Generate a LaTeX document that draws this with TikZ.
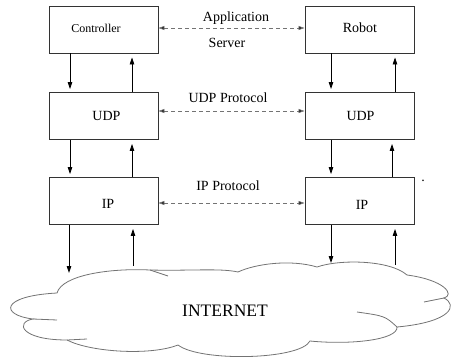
\documentclass[tikz,border=0pt]{standalone}
\usepackage{fontspec}
\setmainfont{Liberation Serif}
\newfontfamily\tnr{Liberation Serif}
\usetikzlibrary{arrows.meta}
\begin{document}
\begin{tikzpicture}[x=1pt,y=-1pt,
  box/.style={draw=black!80,line width=0.9pt,minimum width=109pt,minimum height=47pt,inner sep=0pt},
  lbl/.style={inner sep=0pt,font=\tnr\fontsize{14}{16}\selectfont},
  arr/.style={line width=0.8pt,-{Triangle[length=7pt,width=4.5pt]}},
  darr/.style={draw=black!55,line width=0.8pt,dash pattern=on 4pt off 3pt,{Triangle[length=6pt,width=4pt,fill=black]}-{Triangle[length=6pt,width=4pt,fill=black]}},
  cloudline/.style={draw=black!55,line width=0.8pt}]
\useasboundingbox (0,0) rectangle (452,358);

% boxes
\node[box] (ctrl)  at (103.5,29.5) {};
\node[box] (robot) at (359.5,29.5) {};
\node[box] (udpL)  at (103.5,116) {};
\node[box] (udpR)  at (359.5,116) {};
\node[box] (ipL)   at (103.5,201) {};
\node[box] (ipR)   at (359.5,201) {};

% box texts
\node[lbl,font=\tnr\fontsize{12}{14}\selectfont] (tctrl) at (96,28) {Controller};
\node[lbl] (trobot) at (360,28) {Robot};
\node[lbl] (tudpL) at (106.5,116) {UDP};
\node[lbl] (tudpR) at (360.5,116) {UDP};
\node[lbl] (tipL) at (108,204) {IP};
\node[lbl] (tipR) at (362,205) {IP};

% protocol labels
\node[lbl] (tapp) at (236,18) {Application};
\node[lbl] (tsrv) at (227,43) {Server};
\node[lbl] (tudpp) at (228,98) {UDP Protocol};
\node[lbl] (tipp) at (228,186) {IP Protocol};
\node[lbl] (tdot) at (423,181) {.};

% dashed peer arrows
\draw[darr] ([yshift=1.5pt]ctrl.east) -- ([yshift=1.5pt]robot.west);
\draw[darr] ([yshift=5pt]udpL.east) -- ([yshift=5pt]udpR.west);
\draw[darr] ([yshift=-2pt]ipL.east) -- ([yshift=-2pt]ipR.west);

% column coordinates
\coordinate (xa) at (70,0);
\coordinate (xb) at (132,0);
\coordinate (xc) at (331,0);
\coordinate (xd) at (395,0);
\coordinate (xe) at (392,0);

% left stack
\draw[arr,shorten >=3pt] (ctrl.south -| xa) -- (udpL.north -| xa);
\draw[arr,shorten >=4pt] (udpL.north -| xb) -- (ctrl.south -| xb);
\draw[arr,shorten >=3pt] (udpL.south -| xa) -- (ipL.north -| xa);
\draw[arr,shorten >=4pt] (ipL.north -| xb) -- (udpL.south -| xb);
\coordinate (inA) at (69,273);
\coordinate (outB) at (133,266);
\draw[arr] (ipL.south -| inA) -- (inA);
\draw[arr,shorten >=4pt] (outB) -- (ipL.south -| outB);

% right stack
\draw[arr,shorten >=3pt] (robot.south -| xc) -- (udpR.north -| xc);
\draw[arr,shorten >=4pt] (udpR.north -| xd) -- (robot.south -| xd);
\draw[arr,shorten >=3pt] (udpR.south -| xc) -- (ipR.north -| xc);
\draw[arr,shorten >=4pt] (ipR.north -| xe) -- (udpR.south -| xe);
\coordinate (inC) at (331,263);
\coordinate (outD) at (395,265);
\draw[arr] (ipR.south -| inC) -- (inC);
\draw[arr,shorten >=4pt] (outD) -- (ipR.south -| outD);

% cloud
\draw[cloudline] (57,293) .. controls (62,275) and (110,268) .. (150,270)
  .. controls (190,271) and (220,268) .. (238,272)
  .. controls (255,264) and (290,259) .. (317,267)
  .. controls (340,259) and (390,260) .. (407,275)
  .. controls (445,280) and (455,295) .. (444,298)
  .. controls (458,305) and (452,322) .. (397,327)
  .. controls (398,340) and (350,345) .. (310,341)
  .. controls (300,360) and (200,362) .. (178,345)
  .. controls (150,356) and (90,352) .. (67,340)
  .. controls (20,340) and (15,322) .. (33,319)
  .. controls (0,315) and (0,296) .. (57,293) -- cycle;
\draw[cloudline] (33,319) -- (57,320);
\draw[cloudline] (67,340) -- (87,339);
\draw[cloudline] (444,298) -- (424,302);
\draw[cloudline] (357,312) .. controls (385,316) .. (397,327);
\draw[cloudline] (150,270) -- (168,276);

\node[lbl,font=\tnr\fontsize{17.5}{20}\selectfont] (tnet) at (225,311) {INTERNET};
\end{tikzpicture}
\end{document}
